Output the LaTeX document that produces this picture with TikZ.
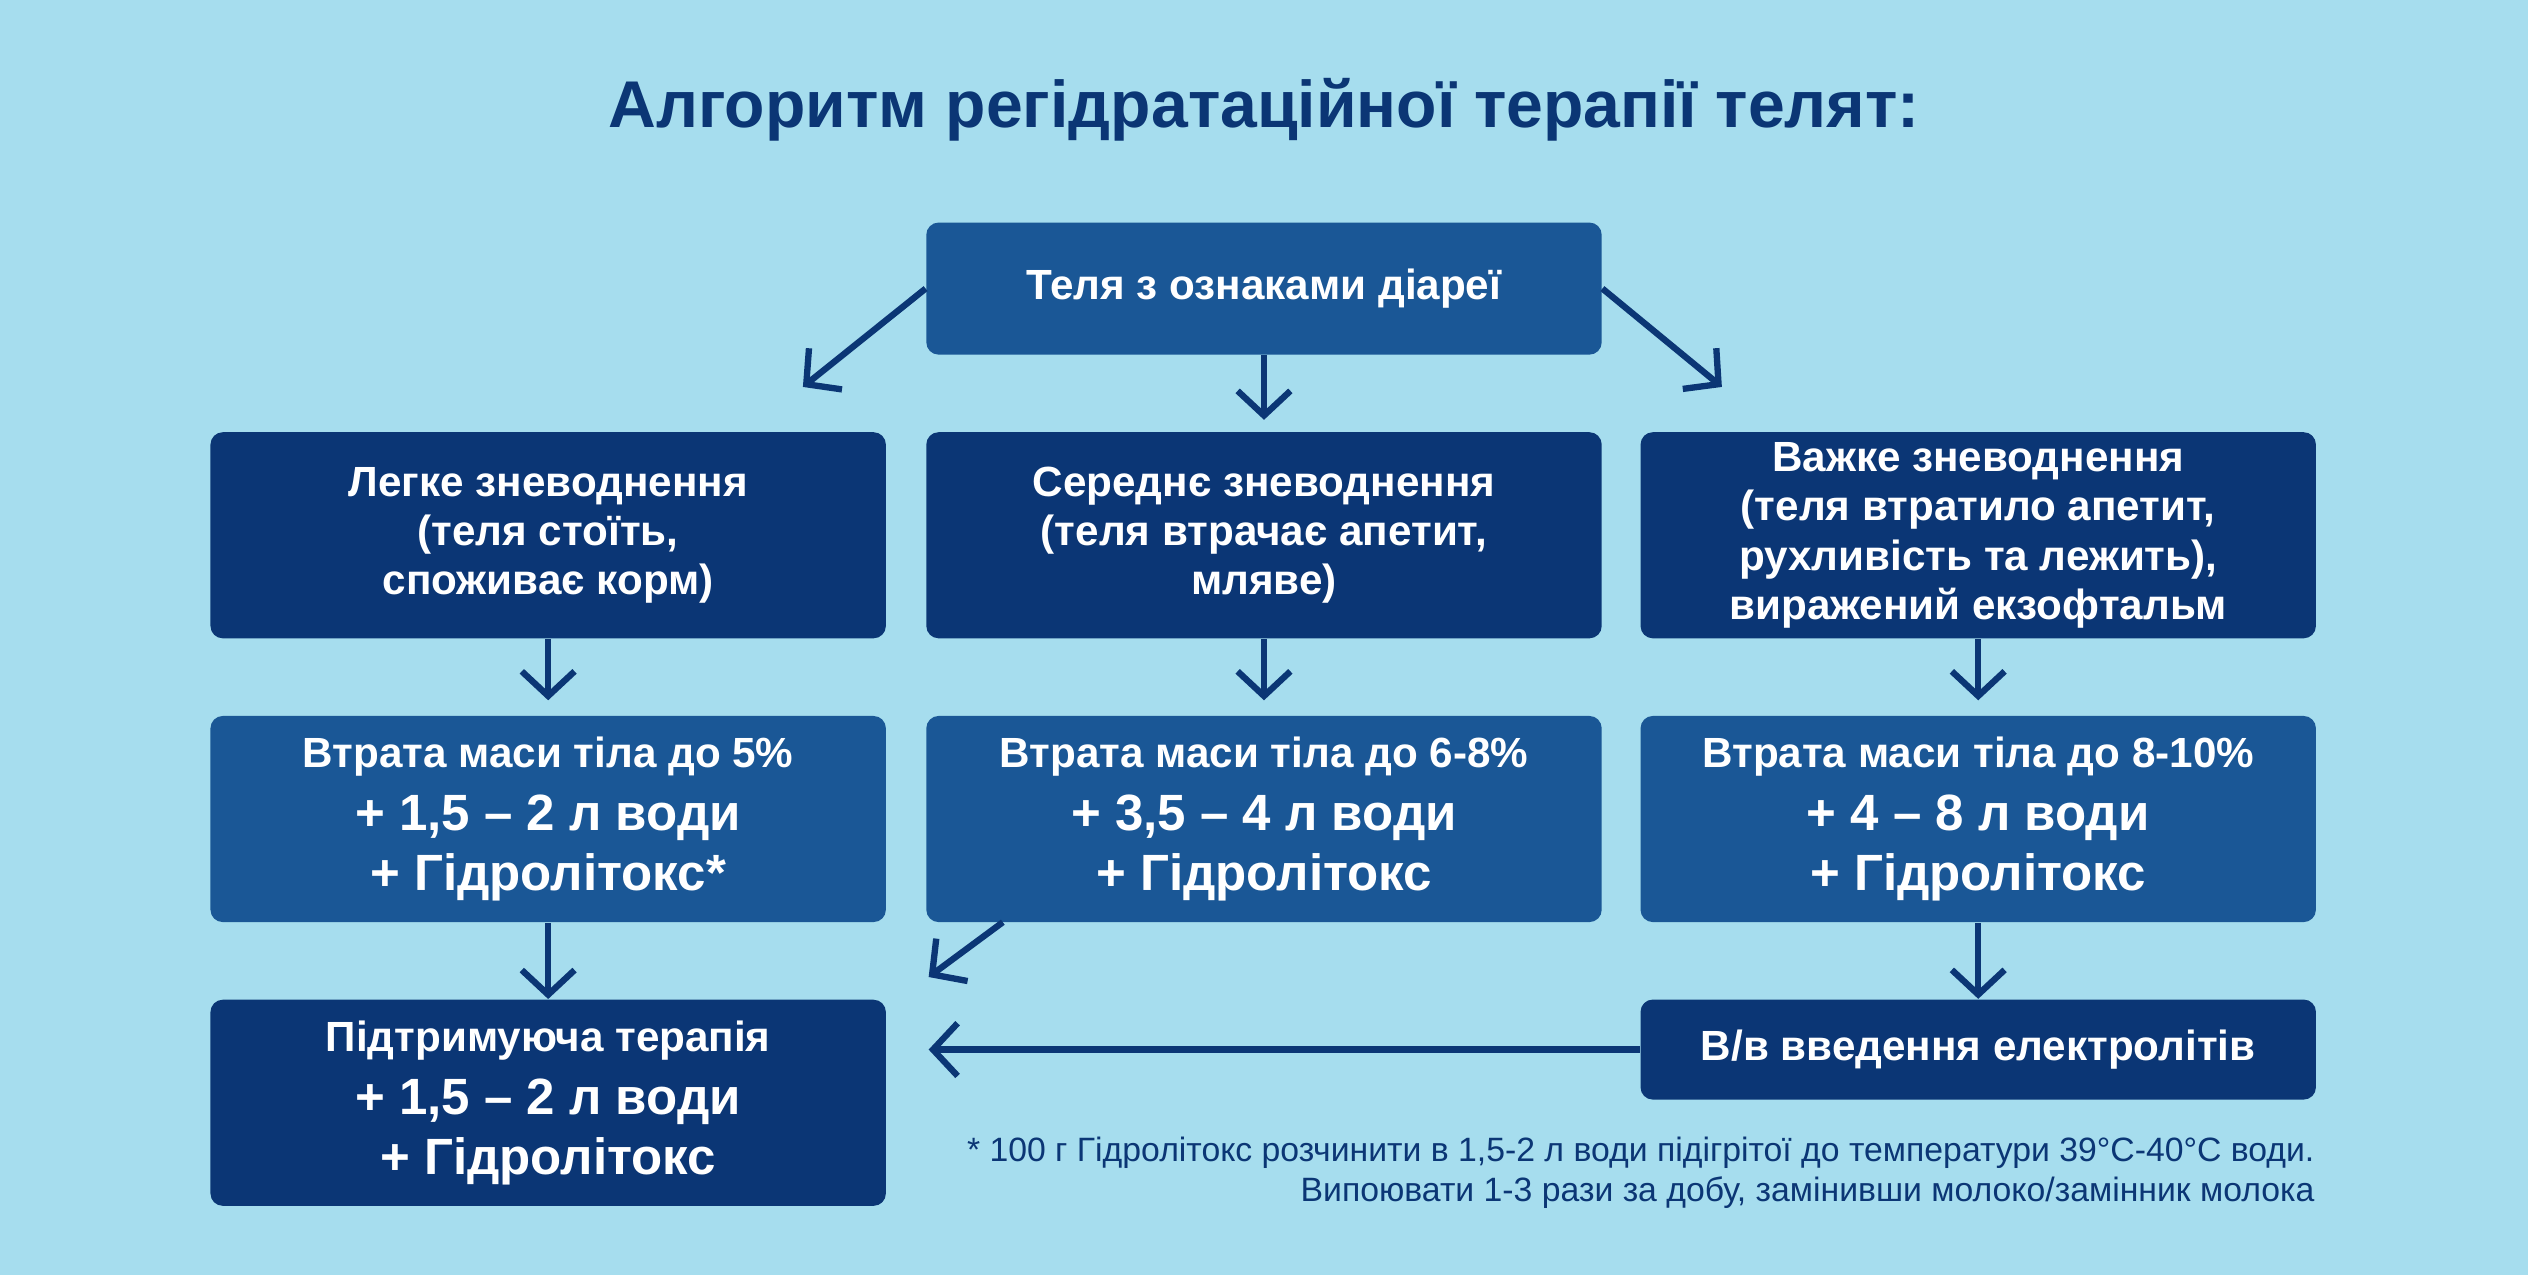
\documentclass[tikz,border=0pt]{standalone}
\usepackage{fontspec}
\setmainfont{Liberation Sans}
\usetikzlibrary{arrows.meta,positioning}
\definecolor{bgblue}{HTML}{A6DDEE}
\definecolor{navy}{HTML}{0B3675}
\definecolor{midblue}{HTML}{1A5796}
\newcommand{\bigtxt}{\fontsize{14.5}{18.5}\selectfont}
\tikzset{
  box/.style={rounded corners=3.5pt, text=white, align=center, font=\bfseries\fontsize{12}{14}\selectfont,
    minimum width=6.75cm, minimum height=2.06cm, inner sep=0pt},
  dark/.style={box, fill=navy},
  mid/.style={box, fill=midblue},
  arr/.style={draw=navy, line width=1.8pt, -{Straight Barb[length=7pt,width=15pt,line width=1.8pt]}}
}
\begin{document}
\begin{tikzpicture}[x=0.01612cm,y=-0.01612cm]
\fill[bgblue] (0,0) rectangle (1568,791);
\useasboundingbox (0,0) rectangle (1568,791);
\node[text=navy, font=\bfseries\fontsize{18.8}{22}\selectfont] (title) at (784,68) {Алгоритм регідратаційної терапії телят:};
\node[mid, minimum height=1.32cm] (calf) at (784,179) {Теля з ознаками діареї};
% row 1
\node[dark] (light) at (340,332) {Легке зневоднення\\(теля стоїть,\\споживає корм)};
\node[dark] (medium) at (784,332) {Середнє зневоднення\\(теля втрачає апетит,\\мляве)};
\node[dark] (heavy) at (1227,332) {Важке зневоднення\\(теля втратило апетит,\\рухливість та лежить),\\виражений екзофтальм};
% row 2
\node[mid] (loss5) at (340,508) {Втрата маси тіла до 5\%\\[4pt]\bigtxt + 1,5 – 2 л води\\[3pt]\bigtxt + Гідролітокс*};
\node[mid] (loss8) at (784,508) {Втрата маси тіла до 6-8\%\\[4pt]\bigtxt + 3,5 – 4 л води\\[3pt]\bigtxt + Гідролітокс};
\node[mid] (loss10) at (1227,508) {Втрата маси тіла до 8-10\%\\[4pt]\bigtxt + 4 – 8 л води\\[3pt]\bigtxt + Гідролітокс};
% row 3
\node[dark] (support) at (340,684) {Підтримуюча терапія\\[4pt]\bigtxt + 1,5 – 2 л води\\[3pt]\bigtxt + Гідролітокс};
\node[dark, minimum height=1.0cm] (iv) at (1227,651) {В/в введення електролітів};
\node[anchor=north east, align=right, text=navy, font=\fontsize{9.6}{11.3}\selectfont, inner sep=0pt] (note) at (1436,705)
  {* 100 г Гідролітокс розчинити в 1,5-2 л води підігрітої до температури 39°C-40°C води.\\Випоювати 1-3 рази за добу, замінивши молоко/замінник молока};
% arrows
\coordinate (tl) at (498,240);
\coordinate (tr) at (1068,240);
\coordinate (ms) at (622,572);
\coordinate (ml) at (576,606);
\coordinate (sl) at (576,651);
\draw[arr] (calf.west) -- (tl);
\draw[arr] (calf.east) -- (tr);
\draw[arr] (calf.south) -- ++(0,40);
\draw[arr] (light.south) -- ++(0,38);
\draw[arr] (medium.south) -- ++(0,38);
\draw[arr] (heavy.south) -- ++(0,38);
\draw[arr] (loss5.south) -- (support.north);
\draw[arr] (loss10.south) -- (iv.north);
\draw[arr] (ms) -- (ml);
\draw[arr] (iv.west) -- (sl);
\end{tikzpicture}
\end{document}
